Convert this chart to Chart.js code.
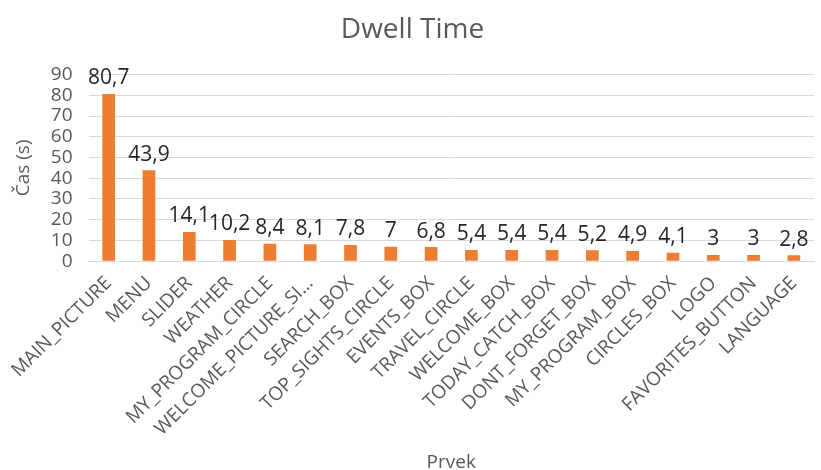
<!DOCTYPE html>
<html>
<head>
<meta charset="utf-8">
<script src="https://cdn.jsdelivr.net/npm/chart.js@4/dist/chart.umd.min.js"></script>
<style>
  html, body { margin: 0; padding: 0; background: #ffffff; }
  #wrap { width: 821px; height: 470px; }
</style>
</head>
<body>
<div id="wrap"><canvas id="c" width="821" height="470"></canvas></div>
<script>
const categories = [
  "MAIN_PICTURE", "MENU", "SLIDER", "WEATHER", "MY_PROGRAM_CIRCLE",
  "WELCOME_PICTURE_SI…", "SEARCH_BOX", "TOP_SIGHTS_CIRCLE", "EVENTS_BOX",
  "TRAVEL_CIRCLE", "WELCOME_BOX", "TODAY_CATCH_BOX", "DONT_FORGET_BOX",
  "MY_PROGRAM_BOX", "CIRCLES_BOX", "LOGO", "FAVORITES_BUTTON", "LANGUAGE"
];
const dwellTime = [80.7, 43.9, 14.1, 10.2, 8.4, 8.1, 7.8, 7, 6.8, 5.4, 5.4, 5.4, 5.2, 4.9, 4.1, 3, 3, 2.8];
const yTicks = [0, 10, 20, 30, 40, 50, 60, 70, 80, 90];

const FONT = "'Open Sans', 'Noto Sans', sans-serif";
const GREY = "#595959";

// Writes each bar's value (with a decimal comma) just above the bar.
const valueLabels = {
  id: "valueLabels",
  afterDatasetsDraw(chart) {
    const ctx = chart.ctx;
    const meta = chart.getDatasetMeta(0);
    ctx.save();
    ctx.font = "21px " + FONT;
    ctx.fillStyle = "#262626";
    ctx.textAlign = "center";
    ctx.textBaseline = "bottom";
    meta.data.forEach((bar, i) => {
      const txt = String(dwellTime[i]).replace(".", ",");
      ctx.fillText(txt, bar.x, bar.y - 5);
    });
    ctx.restore();
  }
};

new Chart(document.getElementById("c"), {
  type: "bar",
  data: {
    labels: categories,
    datasets: [{
      data: dwellTime,
      backgroundColor: "#ED7D31",
      borderWidth: 0,
      barPercentage: 0.63,
      categoryPercentage: 0.5
    }]
  },
  options: {
    responsive: false,
    animation: false,
    layout: { padding: { top: 8, right: 0, bottom: -4, left: 4 } },
    plugins: {
      legend: { display: false },
      tooltip: { enabled: false },
      title: {
        display: true,
        text: "Dwell Time",
        color: GREY,
        font: { family: FONT, size: 28, weight: "normal" },
        padding: { top: 5, bottom: 28 }
      }
    },
    scales: {
      x: {
        // the slanted first label may hang over the y-axis area
        afterFit(scale) { scale.paddingLeft = Math.min(scale.paddingLeft, 60); },
        grid: { display: false, drawTicks: false },
        border: { display: true, color: "#d9d9d9", width: 1 },
        ticks: {
          color: GREY,
          font: { family: FONT, size: 19 },
          minRotation: 45,
          maxRotation: 45,
          autoSkip: false,
          padding: 11
        },
        title: {
          display: true,
          text: "Prvek",
          color: GREY,
          font: { family: FONT, size: 19 },
          padding: { top: 0, bottom: 0 }
        }
      },
      y: {
        min: yTicks[0],
        max: yTicks[yTicks.length - 1],
        afterBuildTicks(axis) { axis.ticks = yTicks.map(v => ({ value: v })); },
        grid: { color: "#d9d9d9", drawTicks: false },
        border: { display: false },
        ticks: {
          color: GREY,
          font: { family: FONT, size: 19 },
          padding: 16,
          autoSkip: false
        },
        title: {
          display: true,
          text: "Čas (s)",
          color: GREY,
          font: { family: FONT, size: 19 },
          padding: { top: 8, bottom: 0 }
        }
      }
    }
  },
  plugins: [valueLabels]
});
</script>
</body>
</html>
